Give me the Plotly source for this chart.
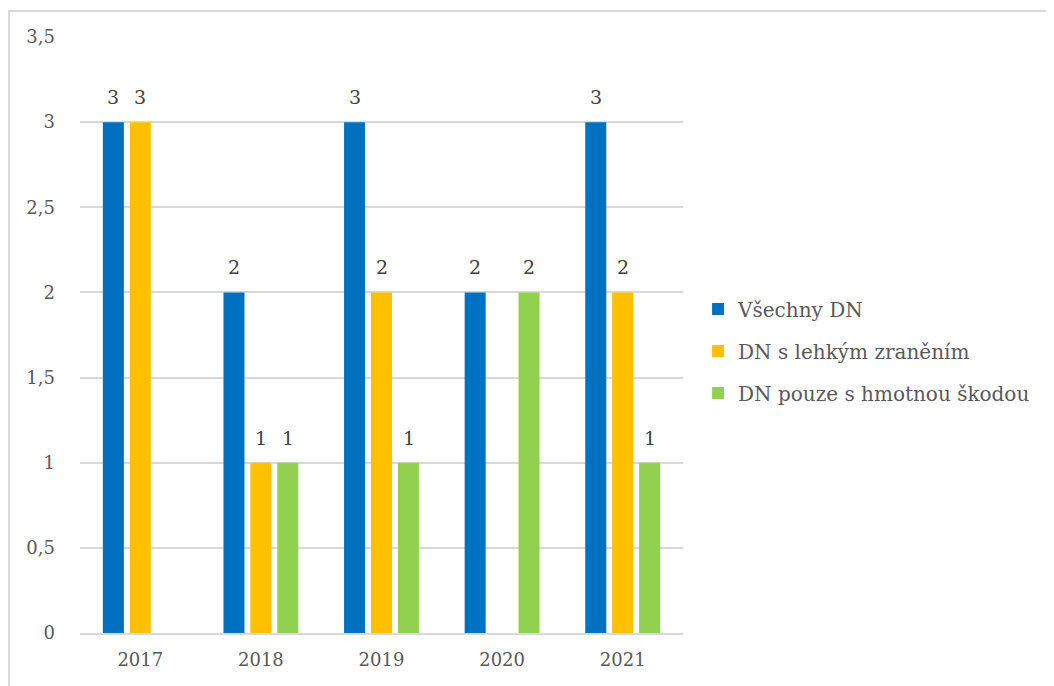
import plotly.graph_objects as go

# roky a počty dopravních nehod
years = ['2017', '2018', '2019', '2020', '2021']
vsechny = [3, 2, 3, 2, 3]
lehke = [3, 1, 2, 0, 2]
hmotna = [0, 1, 1, 2, 1]

series = [
    ('Všechny DN', vsechny, '#0070C0'),
    ('DN s lehkým zraněním', lehke, '#FFC000'),
    ('DN pouze s hmotnou škodou', hmotna, '#92D050'),
]

SERIF = "DejaVu Serif"

fig = go.Figure()
for i, (name, vals, col) in enumerate(series):
    fig.add_trace(go.Bar(
        x=years, y=vals, name=name,
        marker=dict(color=col, line=dict(width=0)),
        legendgroup='g%d' % i,
    ))
    # popisky hodnot nad sloupci (x = pořadí kategorie)
    for j, v in enumerate(vals):
        if v:
            fig.add_annotation(x=j, y=v, text=str(v), showarrow=False,
                               yanchor='bottom', yshift=12, xshift=(i - 1) * 27,
                               font=dict(family=SERIF, size=19, color='#404040'))

fig.update_layout(
    width=1054, height=686,
    margin=dict(l=72, r=379, t=29, b=61),
    plot_bgcolor='white', paper_bgcolor='white',
    barmode='group', bargap=0.33, bargroupgap=0.22,
    separators=', ',
    font=dict(family=SERIF, size=18, color='#595959'),
    legend=dict(x=1.025, y=0.473, xanchor='left', yanchor='middle',
                font=dict(family=SERIF, size=20, color='#595959'),
                tracegroupgap=13, itemwidth=30),
    showlegend=True,
)
fig.update_yaxes(range=[0, 3.5], dtick=0.5, showgrid=True, gridcolor='#d9d9d9',
                 gridwidth=1.5, zeroline=False, ticklabelstandoff=24,
                 tickfont=dict(family=SERIF, size=18, color='#595959'))
fig.update_xaxes(type='category', showline=True, linecolor='#d9d9d9', linewidth=1.5,
                 ticklabelstandoff=10, tickfont=dict(family=SERIF, size=18, color='#595959'))

fig.add_shape(type='rect', xref='paper', yref='paper',
              x0=(9 - 80) / 603, x1=1.8, y0=-0.3, y1=(633 - 11) / 596,
              line=dict(color='#d9d9d9', width=2), layer='below')

fig.write_html("out.html")
